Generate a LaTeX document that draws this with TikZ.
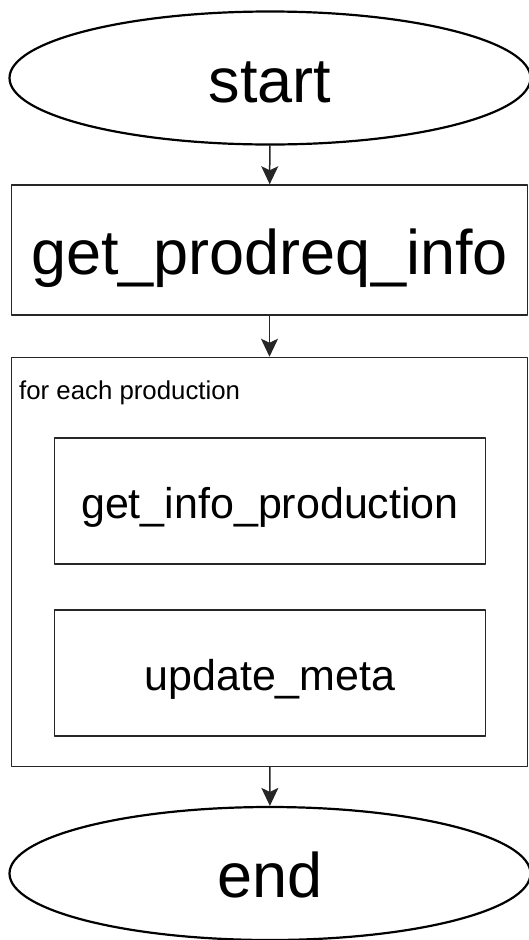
\documentclass[tikz,border=0pt]{standalone}
\usepackage{fontspec}
\setmainfont{Liberation Sans}
\usepackage{tikz}
\usetikzlibrary{arrows.meta,shapes.geometric}

\tikzset{
  terminal/.style={ellipse,draw=black,line width=2.2pt,inner sep=0pt,minimum width=521pt,minimum height=133pt,font=\fontsize{63}{70}\selectfont,text height=62pt,text depth=14pt},
  stepbox/.style={rectangle,draw=black!85,line width=1.5pt,inner sep=0pt,minimum width=516pt,minimum height=130pt,font=\fontsize{63}{70}\selectfont,text height=62pt,text depth=14pt},
  loopbox/.style={rectangle,draw=black!85,line width=1.5pt,inner sep=0pt,minimum width=516pt,minimum height=409pt},
  substep/.style={rectangle,draw=black!85,line width=1.5pt,inner sep=0pt,minimum width=431pt,minimum height=126pt,font=\fontsize{43}{50}\selectfont,text height=42pt,text depth=8pt},
  flow/.style={->,line width=1.5pt,draw=black!85}
}

\begin{document}
\begin{tikzpicture}[line cap=round,line join=round,>={Stealth[length=18pt,width=17pt,inset=4pt]},x=1pt,y=1pt]
                \useasboundingbox (0,0) rectangle (529,-940);
                \node [terminal] (start) at (270,-78) {start};
                \node [stepbox] (prodreq) at (269.5,-250) {get\_prodreq\_info};
                \node [loopbox] (loop) at (269.5,-562) {};
                \node [anchor=base west,inner sep=0pt,font=\fontsize{25.8}{30}\selectfont] (looplabel) at (19,-399.5) {for each production};
                \node [substep] (infoprod) at (270,-501) {get\_info\_production};
                \node [substep] (updmeta) at (270,-673) {update\_meta};
                \node [terminal] (end) at (270,-873.5) {end};
                \draw [flow] (start) -- (prodreq);
                \draw [flow] (prodreq) -- (loop);
                \draw [flow] (loop) -- (end);
            \end{tikzpicture}
\end{document}
